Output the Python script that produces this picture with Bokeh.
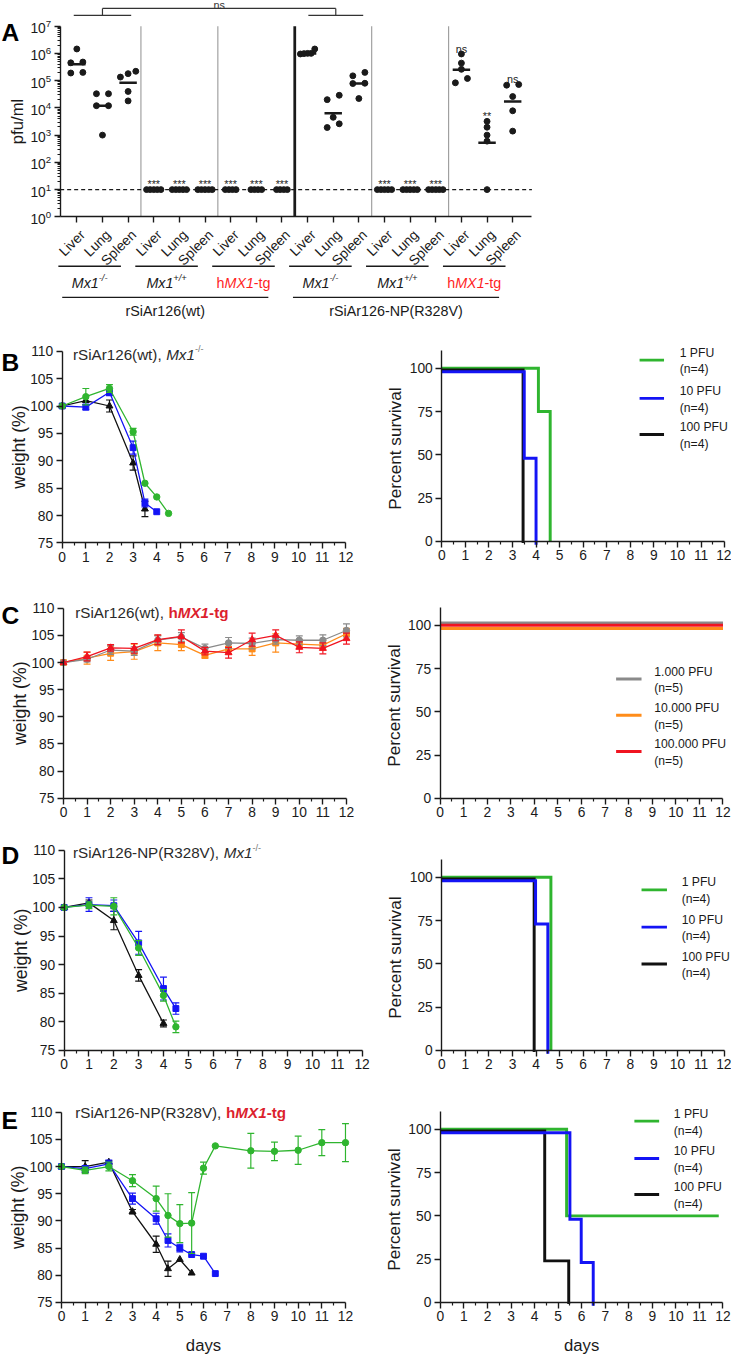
import math
import numpy as np
from bokeh.plotting import figure
from bokeh.layouts import column, row
from bokeh.models import Range1d, FixedTicker
from bokeh.core.properties import value
from bokeh.embed import file_html
from bokeh.resources import INLINE

SX = 731.0 / 747.0
SY = 1354.0 / 1370.0
S = (SX + SY) / 2.0
FONT = "Liberation Sans"
INK = "#1a1a1a"
TXT = "#2a2a2a"
RED_A = "#ff1f1f"
RED_T = "#dc1f2e"
GREEN = "#2fb52f"
BLUE = "#1414f5"
BLACK = "#111111"
GRAY = "#8a8a8a"
ORANGE = "#ff8c1a"
RED = "#f01420"


def sc(v):
    return v * S


def sx_(v):
    return v * SX


def sy_(v):
    return v * SY


def fs(v):
    return f"{v * S:.1f}px"


# ------------------------------------------------------------------ data: panel A
organs = ["Liver", "Lung", "Spleen"]
genotype_labels = ["Mx1-/-", "Mx1+/+", "hMX1-tg"]
virus_labels = ["rSiAr126(wt)", "rSiAr126-NP(R328V)"]

titer_wt = [
    [1.45e6, 4.8e5, 4.5e5, 2.0e5, 1.9e5],
    [3.3e4, 3.3e4, 1.2e4, 1.2e4, 1.0e3],
    [2.2e5, 1.8e5, 1.35e5, 4.0e4, 1.8e4],
    [10, 10, 10, 10, 10],
    [10, 10, 10, 10, 10],
    [10, 10, 10, 10, 10],
    [10, 10, 10, 10],
    [10, 10, 10, 10],
    [10, 10, 10, 10],
]
titer_np = [
    [1.45e6, 1.0e6, 9.5e5, 1.0e6, 9.8e5],
    [2.9e4, 2.0e4, 4.5e3, 2.6e3, 1.9e3],
    [2.0e5, 1.5e5, 8.0e4, 7.8e4, 2.2e4],
    [10, 10, 10, 10, 10],
    [10, 10, 10, 10, 10],
    [10, 10, 10, 10, 10],
    [9.5e5, 4.4e5, 2.6e5, 1.2e5, 8.3e4],
    [3.2e3, 1.95e3, 1.0e3, 6.0e2, 10],
    [7.2e4, 6.8e4, 2.6e4, 7.8e3, 1.4e3],
]
center_wt = [4.0e5, 1.2e4, 8.3e4, None, None, None, None, None, None]
center_np = [1.0e6, 6.3e3, 7.8e4, None, None, None, 2.5e5, 5.2e2, 1.7e4]
signif_wt = ["", "", "", "***", "***", "***", "***", "***", "***"]
signif_np = ["", "", "", "***", "***", "***", "ns", "**", "ns"]
detection_limit = 10
bracket_label = "ns"
decades = [10.0 ** k for k in range(8)]

# ------------------------------------------------------------------ data: weights
b_days_1 = [0, 1, 2, 3, 3.5, 4, 4.5]
b_wt_1 = [100, 101.7, 103.2, 95.3, 85.9, 83.4, 80.4]
b_err_1 = [0, 1.5, 0.7, 0.6, 0, 0, 0]
b_days_10 = [0, 1, 2, 3, 3.5, 4]
b_wt_10 = [100, 99.8, 102.5, 92.4, 82.3, 80.7]
b_err_10 = [0, 0.5, 0.6, 1.2, 0.7, 0]
b_days_100 = [0, 1, 2, 3, 3.5]
b_wt_100 = [100, 101.0, 100.0, 89.6, 81.2]
b_err_100 = [0, 0, 1.1, 1.3, 1.4]

c_days = [0, 1, 2, 3, 4, 5, 6, 7, 8, 9, 10, 11, 12]
c_wt_1000 = [100, 100.6, 102.3, 102.1, 104.1, 104.7, 102.6, 103.6, 103.5, 104.2, 104.1, 104.1, 105.9]
c_err_1000 = [0, 0.5, 0.8, 0.8, 0.8, 0.8, 0.8, 1.0, 1.0, 0.8, 0.8, 1.0, 1.2]
c_wt_10000 = [100, 100.8, 101.7, 102.0, 103.6, 103.3, 101.3, 102.5, 102.5, 103.6, 103.4, 103.2, 105.3]
c_err_10000 = [0, 1.1, 1.3, 1.4, 1.4, 1.1, 0.5, 0.9, 1.2, 1.7, 0.8, 0.9, 1.0]
c_wt_100000 = [100, 101.1, 102.7, 102.6, 104.2, 104.8, 102.1, 101.8, 104.2, 105.0, 102.8, 102.6, 104.4]
c_err_100000 = [0, 0.8, 0.6, 0.9, 0.9, 1.2, 0.7, 1.0, 1.2, 1.0, 1.0, 1.0, 1.0]

d_days_1 = [0, 1, 2, 3, 4, 4.5]
d_wt_1 = [100, 100.4, 100.2, 92.9, 84.6, 79.1]
d_err_1 = [0, 0.6, 1.5, 1.3, 1.0, 1.0]
d_days_10 = [0, 1, 2, 3, 4, 4.5]
d_wt_10 = [100, 100.5, 100.3, 93.8, 85.8, 82.3]
d_err_10 = [0, 1.2, 1.0, 2.0, 2.0, 1.0]
d_days_100 = [0, 1, 2, 3, 4]
d_wt_100 = [100, 100.8, 97.7, 88.1, 79.7]
d_err_100 = [0, 0.5, 1.6, 1.0, 0.6]

e_days_1 = [0, 1, 2, 3, 4, 4.5, 5, 5.5, 6, 6.5, 8, 9, 10, 11, 12]
e_wt_1 = [100, 99.3, 100, 97.4, 94.1, 91.0, 89.5, 89.6, 99.7, 103.8, 102.9, 102.8, 103.0, 104.4, 104.4]
e_err_1 = [0, 0.6, 0.8, 1.1, 2.3, 4.0, 3.5, 5.6, 1.1, 0, 3.2, 1.7, 2.6, 2.4, 3.5]
e_days_10 = [0, 1, 2, 3, 4, 4.5, 5, 5.5, 6, 6.5]
e_wt_10 = [100, 99.6, 100.5, 94.1, 90.4, 86.4, 85.0, 83.8, 83.5, 80.3]
e_err_10 = [0, 0.6, 0.7, 1.0, 1.0, 1.2, 0.7, 0, 0, 0]
e_days_100 = [0, 1, 2, 3, 4, 4.5, 5, 5.5]
e_wt_100 = [100, 100.0, 100.8, 91.7, 85.7, 81.2, 82.9, 80.4]
e_err_100 = [0, 1.1, 0.3, 0.4, 1.5, 1.4, 0, 0]

# ------------------------------------------------------------------ data: survival
dose_labels = ["1 PFU", "10 PFU", "100 PFU"]
dose_labels_c = ["1.000 PFU", "10.000 PFU", "100.000 PFU"]
n4 = ["(n=4)", "(n=4)", "(n=4)"]
n5 = ["(n=5)", "(n=5)", "(n=5)"]

b_km_t_1, b_km_s_1 = [4.1, 4.6], [75, 0]
b_km_t_10, b_km_s_10 = [3.5, 4.0], [50, 0]
b_km_t_100, b_km_s_100 = [3.45], [0]
c_km_t, c_km_s, c_km_end = [], [], 12
d_km_t_1, d_km_s_1 = [4.63], [0]
d_km_t_10, d_km_s_10 = [3.98, 4.5], [75, 0]
d_km_t_100, d_km_s_100 = [3.92], [0]
e_km_t_1, e_km_s_1, e_km_end_1 = [5.36], [50], 11.82
e_km_t_10, e_km_s_10 = [5.5, 5.98, 6.49], [50, 25, 0]
e_km_t_100, e_km_s_100 = [4.43, 5.45], [25, 0]

# ------------------------------------------------------------------ helpers
ADV = {' ': 278, '(': 333, ')': 333, '+': 584, ',': 278, '-': 333, '.': 278, '/': 278, '=': 584,
       '0': 556, '1': 556, '2': 556, '3': 556, '4': 556, '5': 556, '6': 556, '7': 556, '8': 556, '9': 556,
       'A': 667, 'M': 833, 'N': 722, 'P': 667, 'R': 722, 'S': 667, 'V': 667, 'X': 667, 'F': 611, 'U': 722,
       'a': 556, 'e': 556, 'g': 556, 'h': 556, 'i': 222, 'r': 333, 't': 278, 'w': 722, 'x': 500,
       'n': 556, 'l': 222, 'u': 556, 'p': 556}
ADV_B = dict(ADV)
ADV_B.update({'h': 611, 't': 333, 'g': 611, 'r': 389, 'i': 278, 'x': 556, 'w': 778})


def text_w(t, size, bold):
    tab = ADV_B if bold else ADV
    return sum(tab.get(c, 556) for c in t) / 1000.0 * size


def rich(fig, x, y, parts, size, align="center", dx=0.0, dy=0.0):
    ws = [text_w(t, size * r, "bold" in st) for (t, st, c, r, up) in parts]
    off = dx - (sum(ws) / 2.0 if align == "center" else 0.0)
    for (t, st, c, r, up), w in zip(parts, ws):
        fig.text(x=[x], y=[y], text=[t], x_offset=sc(off), y_offset=sy_(dy - up),
                 text_font=value(FONT), text_font_size=fs(size * r), text_font_style=st,
                 text_color=c, text_align="left", text_baseline="middle")
        off += w


def plain(fig, x, y, t, size, align="center", baseline="middle", angle=0.0, style="normal",
          color=INK):
    fig.text(x=[x], y=[y], text=[t], angle=angle, text_align=align, text_baseline=baseline,
             text_font=value(FONT), text_font_size=fs(size), text_font_style=style,
             text_color=color)


def new_fig(w, h, xr, yr, **kw):
    p = figure(width=int(round(sx_(w))), height=int(round(sy_(h))), x_range=xr, y_range=yr,
               toolbar_location=None, output_backend="svg", min_border_left=0,
               min_border_right=0, min_border_top=0, min_border_bottom=0,
               outline_line_color=None, **kw)
    return p


def style_axes(p):
    for ax in p.axis:
        ax.axis_line_width = sc(1.4)
        ax.axis_line_color = INK
        ax.major_tick_line_width = sc(1.4)
        ax.major_tick_line_color = INK
        ax.minor_tick_line_width = sc(1.2)
        ax.minor_tick_line_color = INK
        ax.major_tick_out = int(round(sc(6)))
        ax.major_tick_in = 0
        ax.minor_tick_out = int(round(sc(3)))
        ax.minor_tick_in = 0
        ax.major_label_text_font = FONT
        ax.major_label_text_font_size = fs(14)
        ax.major_label_text_color = INK
        ax.major_label_standoff = int(round(sc(3)))
    p.xgrid.visible = False
    p.ygrid.visible = False


def swarm(vals):
    lv = np.log10(np.asarray(vals, dtype=float))
    order = list(np.argsort(lv, kind="stable"))
    offs = np.zeros(len(vals))
    clusters, cur = [], [order[0]]
    for a, b in zip(order[:-1], order[1:]):
        if lv[b] - lv[a] < 0.2:
            cur.append(b)
        else:
            clusters.append(cur)
            cur = [b]
    clusters.append(cur)
    for c in clusters:
        n = len(c)
        sp = 0.47 if n == 2 else (0.3 if n == 3 else 0.14)
        for k, idx in enumerate(c):
            offs[idx] = (k - (n - 1) / 2.0) * sp
    return offs


# ------------------------------------------------------------------ panel A
titers = titer_wt + titer_np
centers = center_wt + center_np
signif = signif_wt + signif_np
NG = len(titers)
A_W, A_H = 747, 330
X0A, XSA = 78.0, 26.2          # pixel of first category, pixels per category
Y0A, DEC = 219.0, 27.58        # pixel of 10^0, pixels per decade
XL, XR = -0.65, NG - 0.25      # axis extent in category units


def ax_(px):
    return (px - X0A) / XSA


def ay_(py):
    return 10 ** ((Y0A - py) / DEC)


pa = new_fig(A_W, A_H, Range1d(ax_(0), ax_(A_W)), Range1d(ay_(A_H), ay_(0)), y_axis_type="log")
style_axes(pa)
ya = pa.yaxis[0]
ya.ticker = FixedTicker(ticks=decades,
                        minor_ticks=[m * 10.0 ** k for k in range(7) for m in range(2, 10)])
ya.bounds = (decades[0], decades[-1])
ya.fixed_location = XL
xa = pa.xaxis[0]
xa.ticker = FixedTicker(ticks=list(range(NG)), minor_ticks=[])
xa.major_label_overrides = {i: "" for i in range(NG)}
xa.bounds = (XL, XR)
xa.fixed_location = decades[0]
plain(pa, ax_(17), math.sqrt(decades[0] * decades[-1]), "pfu/ml", 17, angle=math.pi / 2)

for k in range(1, 6):
    xs = 3 * k - 0.5
    thick = (k == 3)
    pa.segment(x0=[xs], y0=[decades[0]], x1=[xs], y1=[decades[-1]],
               line_color=INK if thick else "#a0a0a0", line_width=sc(2.8 if thick else 1.2))
pa.segment(x0=[XL], y0=[detection_limit], x1=[XR], y1=[detection_limit], line_dash="4 3",
           line_width=sc(1.4), line_color=INK)

pxs, pys = [], []
for gi, vals in enumerate(titers):
    for v, o in zip(vals, swarm(vals)):
        pxs.append(gi + o)
        pys.append(v)
cx = [gi for gi, c in enumerate(centers) if c]
cy = [centers[gi] for gi in cx]
pa.segment(x0=[x - 0.34 for x in cx], y0=cy, x1=[x + 0.34 for x in cx], y1=cy,
           line_width=sc(2.6), line_color=INK)
pa.scatter(pxs, pys, size=sc(6), color=INK)

sxs = [gi for gi, s in enumerate(signif) if s]
pa.text(x=sxs, y=[max(titers[gi]) * 10 ** 0.2 for gi in sxs], text=[signif[gi] for gi in sxs],
        text_align="center", text_baseline="alphabetic", text_font=value(FONT),
        text_font_size=fs(11), text_color="#222222")

lc, rc = 1.0, 10.1
ylo, yhi = ay_(15), ay_(8)
bx0 = [lc - 1.12, lc, lc, rc, rc - 1.07]
bx1 = [lc + 1.12, lc, rc, rc, rc + 1.07]
by0 = [ylo, ylo, yhi, yhi, ylo]
by1 = [ylo, yhi, yhi, ylo, ylo]
pa.segment(x0=bx0, y0=by0, x1=bx1, y1=by1, line_color="#333333", line_width=sc(1.2))
plain(pa, (lc + rc) / 2.0, ay_(5), bracket_label, 11, baseline="alphabetic", color="#333333")
plain(pa, ax_(1), ay_(32), "A", 25, align="left", baseline="alphabetic", style="bold",
      color="black")

# labels under the axis
pa.text(x=list(range(NG)), y=[ay_(235)] * NG, text=organs * (NG // 3), angle=math.pi / 4,
        x_offset=sx_(6), text_align="right", text_baseline="middle",
        text_font=value(FONT), text_font_size=fs(14), text_color=INK)
geno_parts = {
    "Mx1-/-": [("Mx1", "italic", INK, 1.0, 0), ("-/-", "italic", INK, 0.65, 5)],
    "Mx1+/+": [("Mx1", "italic", INK, 1.0, 0), ("+/+", "italic", INK, 0.65, 5)],
    "hMX1-tg": [("h", "normal", RED_A, 1.0, 0), ("MX1", "italic", RED_A, 1.0, 0),
                ("-tg", "normal", RED_A, 1.0, 0)],
}
for g in range(NG // 3):
    gc = 3 * g + 1 - 0.5
    pa.segment(x0=[gc - 1.22], y0=[ay_(269)], x1=[gc + 1.22], y1=[ay_(269)], line_color=INK,
               line_width=sc(1.3))
    rich(pa, gc, ay_(286), geno_parts[genotype_labels[g % 3]], 14.5)
for v in range(2):
    vc = 9 * v + 4 - 0.55
    pa.segment(x0=[vc - 4.02], y0=[ay_(300.5)], x1=[vc + 4.02], y1=[ay_(300.5)],
               line_color=INK, line_width=sc(1.3))
    plain(pa, vc, ay_(314.5), virus_labels[v], 14.5)


# ------------------------------------------------------------------ weight panels
def weight_panel(fig_w, fig_h, left, x12, y110, y75, series, title_parts, tdx, tdy,
                 letter, letter_base, xlabel=None):
    ppd = (x12 - left) / 12.0
    ppu = (y75 - y110) / 35.0

    def wx(px):
        return (px - left) / ppd

    def wy(py):
        return 110 - (py - y110) / ppu

    p = new_fig(fig_w, fig_h, Range1d(wx(0), wx(fig_w)), Range1d(wy(fig_h), wy(0)))
    style_axes(p)
    p.xaxis.ticker = FixedTicker(ticks=list(range(13)), minor_ticks=[k + 0.5 for k in range(12)])
    p.xaxis.bounds = (0, 12)
    p.xaxis.fixed_location = 75
    p.yaxis.ticker = FixedTicker(ticks=list(range(75, 111, 5)), minor_ticks=[])
    p.yaxis.bounds = (75, 110)
    p.yaxis.fixed_location = 0
    plain(p, wx(left - 44.5), 92.5, "weight (%)", 18, angle=math.pi / 2)
    if xlabel:
        plain(p, 6, wy(y75 + 44), xlabel, 17)
    for days, w, err, col, mk in series:
        ed = [d for d, e in zip(days, err) if e > 0]
        lo = [v - e for v, e in zip(w, err) if e > 0]
        hi = [v + e for v, e in zip(w, err) if e > 0]
        if ed:
            p.segment(x0=ed, y0=lo, x1=ed, y1=hi, line_color=col, line_width=sc(1.2))
            p.scatter(ed + ed, lo + hi, marker="dash", size=sc(7), line_color=col,
                      line_width=sc(1.2))
        p.line(days, w, line_color=col, line_width=sc(1.3))
        size = {"circle": 6.5, "square": 6, "triangle": 7}[mk]
        p.scatter(days, w, marker=mk, size=sc(size), color=col)
    rich(p, 0, 110, title_parts, 15.5, align="left", dx=tdx, dy=tdy)
    plain(p, wx(1), wy(letter_base), letter, 25, align="left", baseline="alphabetic",
          style="bold", color="black")
    return p


def title_mx1(prefix):
    return [(prefix, "normal", TXT, 1.0, 0), ("Mx1", "italic", TXT, 1.0, 0),
            (" -/-", "normal", "#777777", 0.6, 5)]


def title_hmx1(prefix):
    return [(prefix, "normal", TXT, 1.0, 0), ("h", "bold", RED_T, 1.0, 0),
            ("MX1", "bold italic", RED_T, 1.0, 0), ("-tg", "bold", RED_T, 1.0, 0)]


LW, RW = 385, 362

pB = weight_panel(LW, 260, 63, 352.7, 25, 219,
                  [(b_days_100, b_wt_100, b_err_100, BLACK, "triangle"),
                   (b_days_10, b_wt_10, b_err_10, BLUE, "square"),
                   (b_days_1, b_wt_1, b_err_1, GREEN, "circle")],
                  title_mx1("rSiAr126(wt), "), 11, 3, "B", 36)
pC = weight_panel(LW, 255, 64.3, 353.3, 25, 217.3,
                  [(c_days, c_wt_10000, c_err_10000, ORANGE, "square"),
                   (c_days, c_wt_1000, c_err_1000, GRAY, "circle"),
                   (c_days, c_wt_100000, c_err_100000, RED, "triangle")],
                  title_hmx1("rSiAr126(wt), "), 12, 4.3, "C", 32)
pD = weight_panel(LW, 255, 65, 369.3, 15, 217.3,
                  [(d_days_100, d_wt_100, d_err_100, BLACK, "triangle"),
                   (d_days_10, d_wt_10, d_err_10, BLUE, "square"),
                   (d_days_1, d_wt_1, d_err_1, GREEN, "circle")],
                  title_mx1("rSiAr126-NP(R328V), "), 9, 2.7, "D", 20)
pE = weight_panel(LW, 270, 62.3, 352.3, 25, 217.3,
                  [(e_days_100, e_wt_100, e_err_100, BLACK, "triangle"),
                   (e_days_10, e_wt_10, e_err_10, BLUE, "square"),
                   (e_days_1, e_wt_1, e_err_1, GREEN, "circle")],
                  title_hmx1("rSiAr126-NP(R328V), "), 14, 0, "E", 33, xlabel="days")


# ------------------------------------------------------------------ survival panels
def km_path(times, levels, end):
    xs, ys, cur = [0.0], [100.0], 100.0
    for t, lv in zip(times, levels):
        xs += [t, t]
        ys += [cur, lv]
        cur = lv
    if cur > 0:
        xs.append(end)
        ys.append(cur)
    return xs, ys


def survival_panel(fig_w, fig_h, left, x12, y100, y0, curves, labels, nlabels, colors,
                   leg_x0, leg_x1, leg_tx, leg_rows, xlabel=None):
    ppd = (x12 - left) / 12.0
    ppu = (y0 - y100) / 100.0

    def sx(px):
        return (px - left) / ppd

    def sy(py):
        return (y0 - py) / ppu

    p = new_fig(fig_w, fig_h, Range1d(sx(0), sx(fig_w)), Range1d(sy(fig_h), sy(0)))
    style_axes(p)
    p.xaxis.ticker = FixedTicker(ticks=list(range(13)), minor_ticks=[k + 0.5 for k in range(12)])
    p.xaxis.bounds = (0, 12)
    p.xaxis.fixed_location = 0
    p.yaxis.ticker = FixedTicker(ticks=[0, 25, 50, 75, 100], minor_ticks=[])
    p.yaxis.bounds = (0, 110.5)
    p.yaxis.fixed_location = 0
    plain(p, sx(left - 47.5), 53.6, "Percent survival", 17.5, angle=math.pi / 2)
    if xlabel:
        plain(p, 6, sy(y0 + 44), xlabel, 17)
    for times, levels, end, col, nudge in curves:
        xs, ys = km_path(times, levels, end)
        p.line(xs, [y + nudge for y in ys], line_color=col, line_width=sc(3),
               line_join="miter")
    lx0, lx1, tx = sx(leg_x0), sx(leg_x1), sx(leg_tx)
    ry = [sy(r) for r in leg_rows]
    p.segment(x0=[lx0] * 3, y0=ry, x1=[lx1] * 3, y1=ry, line_color=colors, line_width=sc(3))
    p.text(x=[tx] * 3, y=ry, text=labels, y_offset=-sy_(7.5), text_align="left",
           text_baseline="middle", text_font=value(FONT), text_font_size=fs(12.4),
           text_color=INK)
    p.text(x=[tx] * 3, y=ry, text=nlabels, y_offset=sy_(9.5), text_align="left",
           text_baseline="middle", text_font=value(FONT), text_font_size=fs(12.4),
           text_color=INK)
    return p


sB = survival_panel(RW, 260, 65.7, 355, 42.3, 217.3,
                    [(b_km_t_1, b_km_s_1, 12, GREEN, 0),
                     (b_km_t_100, b_km_s_100, 12, BLACK, -1),
                     (b_km_t_10, b_km_s_10, 12, BLUE, -2)],
                    dose_labels, n4, [GREEN, BLUE, BLACK], 268, 293, 309, [34, 72.7, 109.3])
sC = survival_panel(RW, 255, 64, 353.3, 42.3, 217.3,
                    [(c_km_t, c_km_s, c_km_end, GRAY, 1.3),
                     (c_km_t, c_km_s, c_km_end, ORANGE, -1.9),
                     (c_km_t, c_km_s, c_km_end, RED, 0)],
                    dose_labels_c, n5, [GRAY, ORANGE, RED], 244, 270, 283, [96.7, 133.3, 170])
sD = survival_panel(RW, 255, 65.7, 355, 42.3, 217.3,
                    [(d_km_t_1, d_km_s_1, 12, GREEN, 0),
                     (d_km_t_100, d_km_s_100, 12, BLACK, -1),
                     (d_km_t_10, d_km_s_10, 12, BLUE, -2)],
                    dose_labels, n4, [GREEN, BLUE, BLACK], 270, 296, 311, [55, 92.7, 130])
sE = survival_panel(RW, 270, 64.3, 353.3, 42.3, 217.3,
                    [(e_km_t_1, e_km_s_1, e_km_end_1, GREEN, 0),
                     (e_km_t_100, e_km_s_100, 12, BLACK, -1),
                     (e_km_t_10, e_km_s_10, 12, BLUE, -2)],
                    dose_labels, n4, [GREEN, BLUE, BLACK], 262.7, 288, 303, [34, 71.7, 108.3],
                    xlabel="days")

layout = column(pa, row(pB, sB), row(pC, sC), row(pD, sD), row(pE, sE))
open("out.html", "w").write(file_html(layout, INLINE))
